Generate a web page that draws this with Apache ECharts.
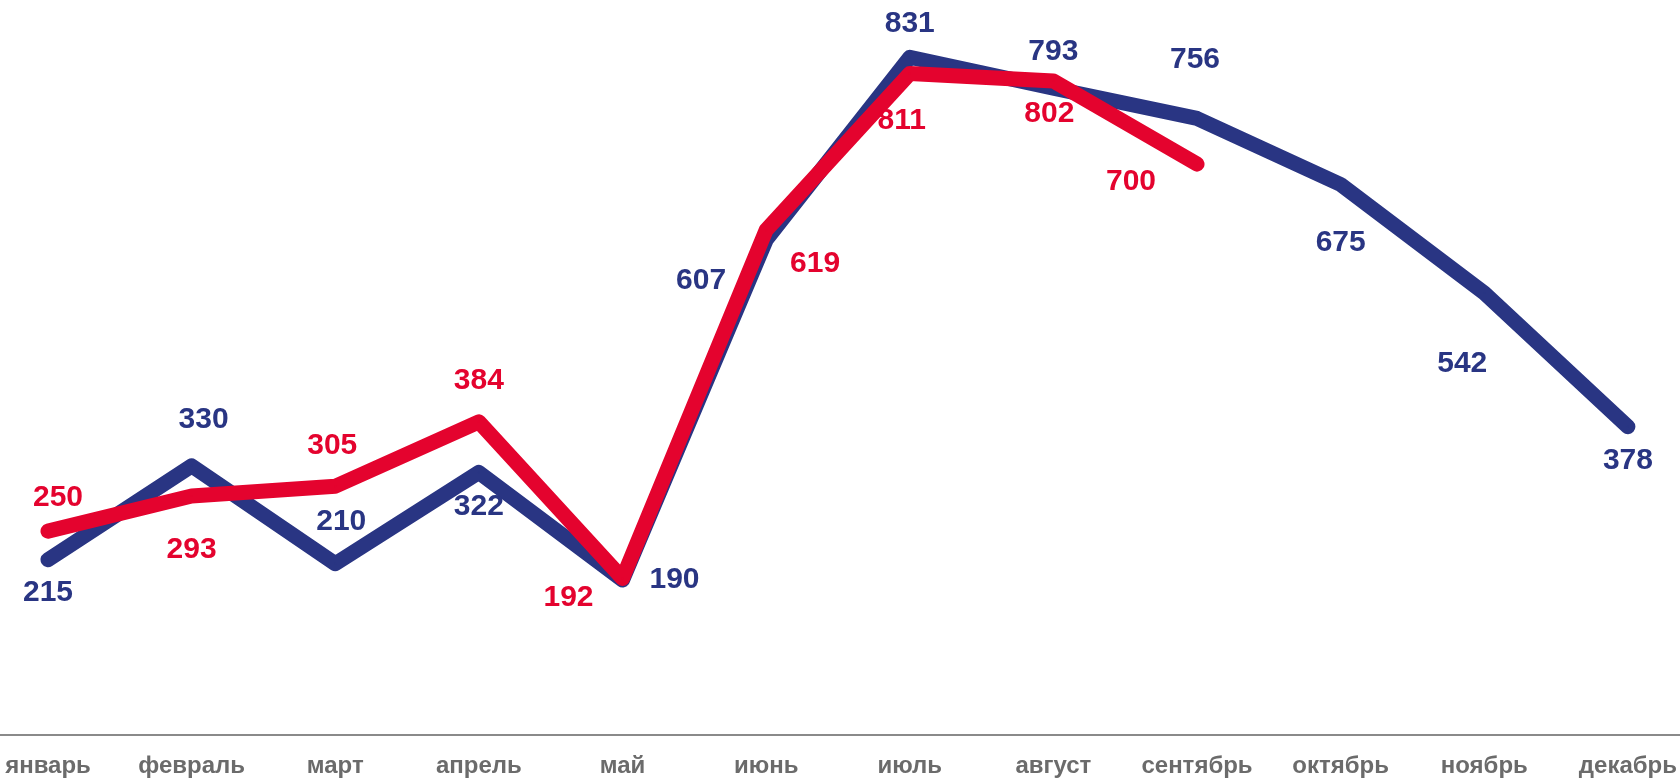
<!DOCTYPE html>
<html>
<head>
<meta charset="utf-8">
<script src="https://cdn.jsdelivr.net/npm/echarts@6/dist/echarts.min.js"></script>
<style>
  html, body { margin: 0; padding: 0; background: #fff; }
  #chart { width: 1680px; height: 778px; }
</style>
</head>
<body>
<div id="chart"></div>
<script>
const months = ['январь', 'февраль', 'март', 'апрель', 'май', 'июнь', 'июль', 'август', 'сентябрь', 'октябрь', 'ноябрь', 'декабрь'];
const prevYear = [215, 330, 210, 322, 190, 607, 831, 793, 756, 675, 542, 378];
const currYear = [250, 293, 305, 384, 192, 619, 811, 802, 700];

// label offsets (px) from each point, picked to match the layout
const prevOffsets = [[0, 33], [12, -46], [6, -42], [0, 34], [52, 0], [-65, 41], [0, -34], [0, -37], [-2, -59], [0, 58], [-22, 71], [0, 34]];
const currOffsets = [[10, -33], [0, 54], [-3, -41], [0, -41], [-54, 19], [49, 34], [-8, 47], [-4, 33], [-66, 18]];

const BLUE = '#293583';
const RED = '#e4032e';
const FONT = '"Liberation Sans", Arial, sans-serif';

const withLabels = (values, offsets) =>
  values.map((v, i) => ({ value: v, label: { offset: offsets[i] } }));

const chart = echarts.init(document.getElementById('chart'));
chart.setOption({
  animation: false,
  grid: [
    { left: 48, right: 49, top: 1, bottom: 43 },
    { left: 0, right: 0, top: 1, bottom: 43 },
  ],
  xAxis: [
    {
      type: 'category',
      data: months,
      boundaryGap: false,
      axisTick: { show: false },
      axisLine: { show: false },
      axisLabel: {
        interval: 0,
        hideOverlap: false,
        color: '#6b6b6b',
        fontWeight: 'bold',
        fontSize: 24,
        fontFamily: FONT,
        margin: 19,
      },
    },
    {
      type: 'category',
      gridIndex: 1,
      data: months,
      axisTick: { show: false },
      axisLabel: { show: false },
      axisLine: { lineStyle: { color: '#8a8a8a', width: 2 } },
    },
  ],
  yAxis: [
    { type: 'value', min: 0, max: 900, show: false },
    { type: 'value', gridIndex: 1, min: 0, max: 900, show: false },
  ],
  series: [
    {
      type: 'line',
      data: withLabels(prevYear, prevOffsets),
      symbol: 'circle',
      symbolSize: 2,
      itemStyle: { color: BLUE },
      lineStyle: { color: BLUE, width: 15, cap: 'round', join: 'round' },
      label: { show: true, position: 'inside', color: BLUE, fontWeight: 'bold', fontSize: 30, fontFamily: FONT },
      z: 2,
    },
    {
      type: 'line',
      data: withLabels(currYear, currOffsets),
      symbol: 'circle',
      symbolSize: 2,
      itemStyle: { color: RED },
      lineStyle: { color: RED, width: 15, cap: 'round', join: 'round' },
      label: { show: true, position: 'inside', color: RED, fontWeight: 'bold', fontSize: 30, fontFamily: FONT },
      z: 3,
    },
  ],
});
</script>
</body>
</html>
